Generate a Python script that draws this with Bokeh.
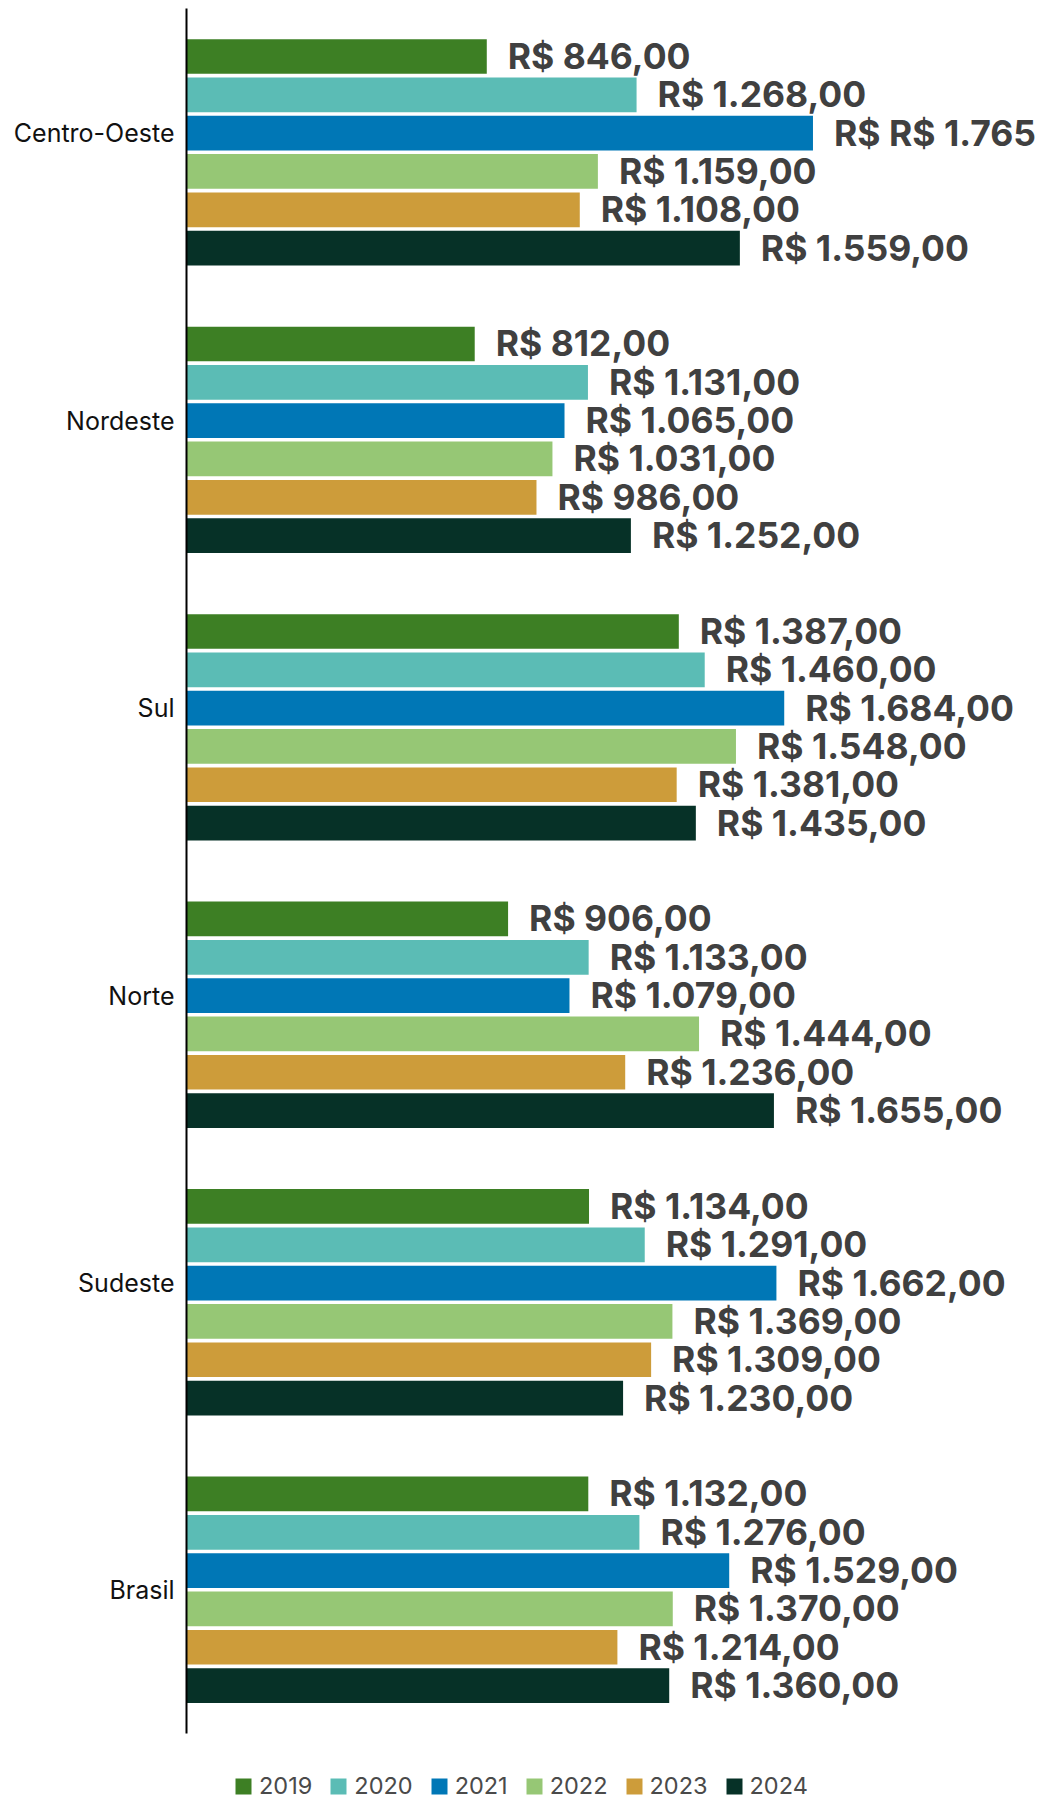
from bokeh.plotting import figure
from bokeh.models import ColumnDataSource, Range1d, FixedTicker, CustomJSTickFormatter, Legend, LegendItem
from bokeh.core.properties import value
from bokeh.embed import file_html
from bokeh.resources import INLINE

regions = ["Centro-Oeste", "Nordeste", "Sul", "Norte", "Sudeste", "Brasil"]
years = ["2019", "2020", "2021", "2022", "2023", "2024"]
colors = ["#3d7f24", "#5bbcb5", "#0077b6", "#96c775", "#cd9c3a", "#063127"]

v2019 = [846, 812, 1387, 906, 1134, 1132]
v2020 = [1268, 1131, 1460, 1133, 1291, 1276]
v2021 = [1765, 1065, 1684, 1079, 1662, 1529]
v2022 = [1159, 1031, 1548, 1444, 1369, 1370]
v2023 = [1108, 986, 1381, 1236, 1309, 1214]
v2024 = [1559, 1252, 1435, 1655, 1230, 1360]
series = [v2019, v2020, v2021, v2022, v2023, v2024]

# label text exceptions as printed in the original
label_overrides = {("Centro-Oeste", "2021"): "R$ R$ 1.765"}
# vertical shift of each category label (in category units, negative = up)
label_shift = [-0.066, -0.066, -0.066, -0.066, -0.066, 0.0]


def brl(v):
    s = f"{v:,}".replace(",", ".")
    return f"R$ {s},00"


n = len(regions)
p = figure(width=1040, height=1800, output_backend="svg", toolbar_location=None,
           x_range=Range1d(0, 2406), y_range=Range1d(n + 0.233, -0.028),
           min_border_left=186, min_border_right=0, min_border_top=0, min_border_bottom=0)
p.outline_line_color = None
p.xgrid.visible = False
p.ygrid.visible = False
p.xaxis.visible = False

pitch = 0.1333
bar_h = 0.1207
items = []
for k, (yr, col, vals) in enumerate(zip(years, colors, series)):
    ys = [i + 0.5 + (k - 2.5) * pitch for i in range(n)]
    labels = [label_overrides.get((r, yr), brl(v)) for r, v in zip(regions, vals)]
    src = ColumnDataSource(dict(y=ys, v=vals, lab=labels))
    r = p.hbar(y="y", right="v", left=0, height=bar_h, color=col, line_color=None, source=src)
    p.text(x="v", y="y", text="lab", source=src, x_offset=21,
           text_baseline="middle", text_align="left", text_color="#404040",
           text_font=value("Inter"), text_font_style="bold", text_font_size="35.5px")
    items.append(LegendItem(label=yr, renderers=[r]))

ax = p.yaxis[0]
ax.bounds = (0, n)
ax.ticker = FixedTicker(ticks=[i + 0.5 + s for i, s in enumerate(label_shift)])
ax.formatter = CustomJSTickFormatter(args=dict(names=regions), code="return names[Math.floor(tick)];")
ax.axis_line_color = "black"
ax.axis_line_width = 2
ax.major_tick_line_color = None
ax.minor_tick_line_color = None
ax.major_label_standoff = 6
ax.major_label_text_font = "Inter"
ax.major_label_text_font_size = "25px"
ax.major_label_text_color = "#111111"

legend = Legend(items=items, orientation="horizontal", location=(47, 0),
                label_text_font="Inter", label_text_font_size="23.5px", label_text_color="#4a4a4a",
                glyph_width=20, glyph_height=20, spacing=16, label_standoff=6,
                padding=0, margin=0, border_line_color=None, background_fill_alpha=0)
p.add_layout(legend, "center")

open("out.html", "w").write(file_html(p, INLINE))
